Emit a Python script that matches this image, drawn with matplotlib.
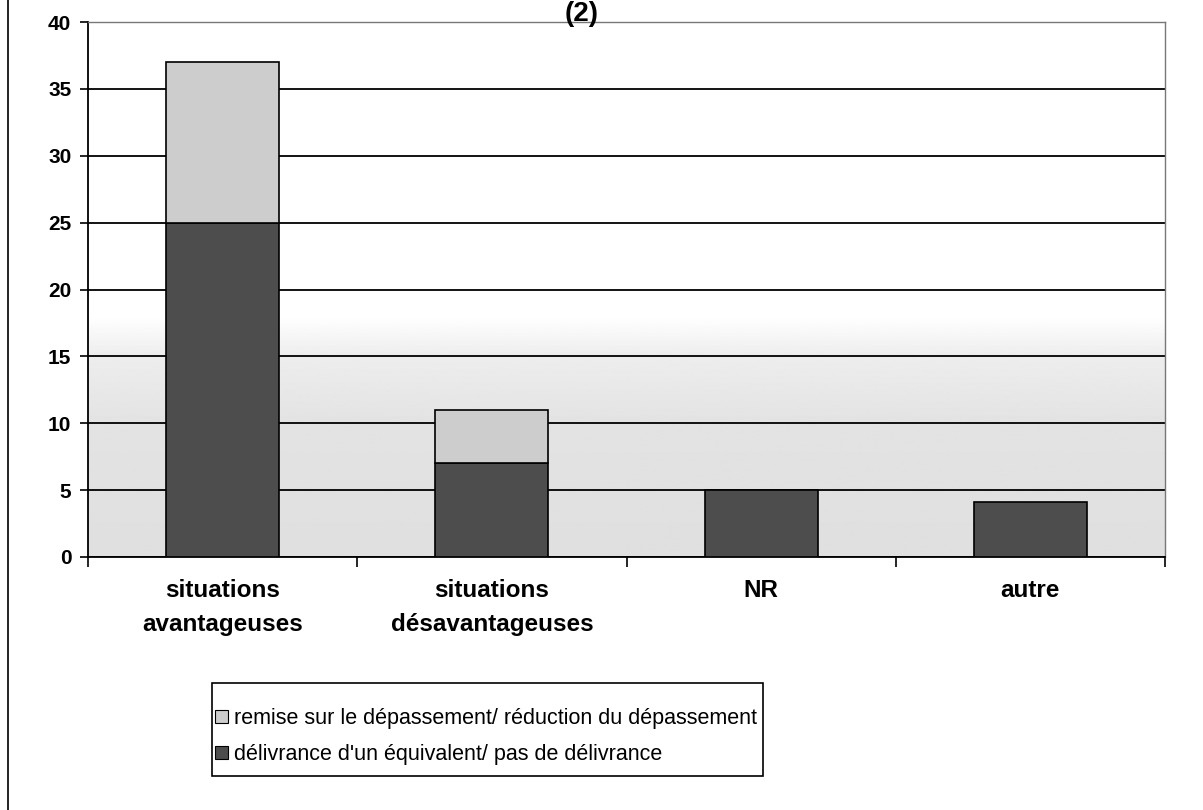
import numpy as np
import matplotlib.pyplot as plt
from matplotlib.lines import Line2D
from matplotlib.patches import Patch, Rectangle

# categories and the two stacked series
categories = ['situations\navantageuses', 'situations\ndésavantageuses', 'NR', 'autre']
delivrance = [25, 7, 5, 4.1]
remise = [12, 4, 0, 0]
series_labels = ["remise sur le dépassement/ réduction du dépassement",
                 "délivrance d'un équivalent/ pas de délivrance"]

plt.rcParams['font.family'] = ['Liberation Sans', 'DejaVu Sans']

fig = plt.figure(figsize=(12.03, 8.10), dpi=100)
ax = fig.add_axes([88/1203, 1-557/810, (1165-88)/1203, (557-22)/810])

x = np.arange(len(categories))
ax.set_xlim(-0.5, len(categories)-0.5)
ax.set_ylim(0, 40)

# pale grey in the lower part of the plot area, white above
yy = np.linspace(0, 40, 400)
shade = np.interp(yy, [0, 10, 15, 18, 40], [0.875, 0.89, 0.93, 1.0, 1.0])
ax.imshow(shade.reshape(-1, 1), cmap='gray', vmin=0, vmax=1,
          extent=(-0.5, len(categories)-0.5, 0, 40), origin='lower',
          aspect='auto', zorder=0)

dark = '#4d4d4d'
light = '#cdcdcd'
w = 0.42
ax.bar(x, delivrance, w, color=dark, edgecolor='black', linewidth=1.2, zorder=3)
ax.bar(x, remise, w, bottom=delivrance, color=light,
       edgecolor=['black' if r > 0 else 'none' for r in remise], linewidth=1.2, zorder=3)

ax.set_yticks(np.arange(0, 41, 5))
ax.yaxis.grid(True, color='black', linewidth=1.3, zorder=1)
ax.set_axisbelow(True)
ax.tick_params(axis='y', length=6, width=1.2, labelsize=15, pad=6)
for t in ax.get_yticklabels():
    t.set_fontweight('bold')

ax.set_xticks(x)
ax.set_xticklabels(categories, fontsize=17.5, fontweight='bold', linespacing=1.6)
ax.set_xticks(np.arange(-0.5, len(categories), 1), minor=True)
ax.tick_params(axis='x', which='major', length=0, pad=16)
ax.tick_params(axis='x', which='minor', length=7, width=1.2)

for s in ['left', 'bottom']:
    ax.spines[s].set_linewidth(1.3)
for s in ['top', 'right']:
    ax.spines[s].set_color('#777777')
    ax.spines[s].set_linewidth(1.0)

# legend box drawn by hand, entries placed inside
fig.add_artist(Rectangle((212/1203, 1-776/810), (763-212)/1203, (776-683)/810,
                         transform=fig.transFigure, facecolor='white',
                         edgecolor='black', linewidth=1.2))
handles = [Patch(facecolor=light, edgecolor='black', linewidth=0.8),
           Patch(facecolor=dark, edgecolor='black', linewidth=0.8)]
leg = fig.legend(handles, series_labels, loc='upper left',
                 bbox_to_anchor=(215/1203, 1-708/810), frameon=False,
                 fontsize=15.5,
                 handlelength=0.6, handleheight=0.6, handletextpad=0.3,
                 labelspacing=0.7, borderpad=0.0, borderaxespad=0)

fig.text(582/1203, 1-1/810, '(2)', ha='center', va='top',
         fontsize=20, fontweight='bold')
fig.add_artist(Line2D([8/1203, 8/1203], [0, 1], color='black', linewidth=1.2))

fig.savefig('out.png', dpi=100)
